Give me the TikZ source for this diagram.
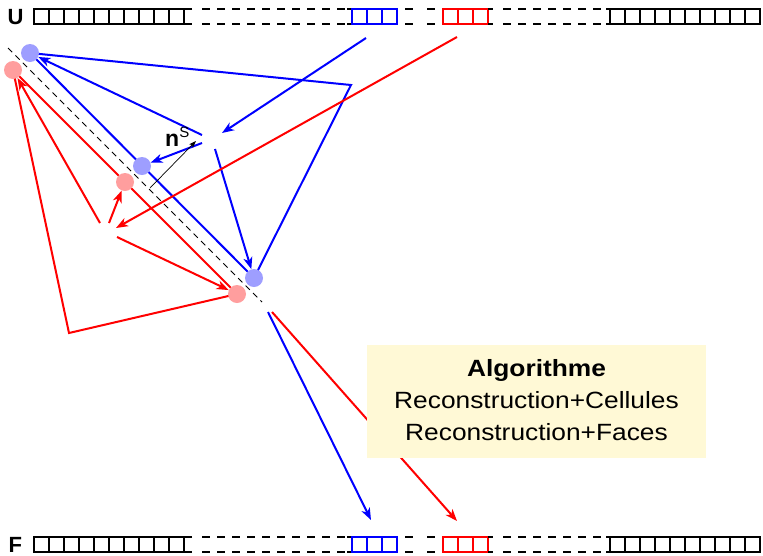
\documentclass[tikz,border=0pt]{standalone}
\usepackage{fontspec}
\usepackage{graphicx}
\setmainfont{Liberation Sans}
\usetikzlibrary{arrows.meta}
\pgfdeclarelayer{background}
\pgfsetlayers{background,main}
\definecolor{dotblue}{RGB}{158,158,255}
\definecolor{dotred}{RGB}{255,158,158}
\definecolor{notefill}{RGB}{255,249,214}
\newcommand\widetext[1]{\scalebox{1.12}[1]{#1}}

\begin{document}
\begin{tikzpicture}[x=1pt,y=-1pt,
  flow/.style={line width=2pt, -{Stealth[length=12pt,width=9pt,inset=3.5pt]}},
  link/.style={line width=2pt},
  normal/.style={line width=0.7pt, -{Stealth[length=7pt,width=5pt,inset=1.5pt]}},
  axis/.style={line width=0.9pt, dash pattern=on 6pt off 4.5pt},
  bdot/.style={circle, fill=dotblue, minimum size=18pt, inner sep=0pt},
  rdot/.style={circle, fill=dotred, minimum size=18pt, inner sep=0pt},
  cell/.style={line width=2pt},
  gapdash/.style={line width=2pt, dash pattern=on 8pt off 7pt},
  gapshort/.style={line width=2pt, dash pattern=on 8pt off 14pt},
  rowlabel/.style={font=\fontsize{22}{22}\selectfont\bfseries, inner sep=0pt, anchor=base west},
  notetext/.style={font=\fontsize{23.5}{28}\selectfont, inner sep=0pt, anchor=base},
  ]
\useasboundingbox (0,0) rectangle (763,555);

% the two cell arrays U (top) and F (bottom)
\foreach \yt/\yb in {8.5/23.5, 537/552} {
  % left block of black cells
  \draw[cell] (192,\yt) -- (34,\yt) -- (34,\yb) -- (192,\yb);
  \foreach \i in {1,...,10} \draw[cell] (34+15*\i,\yt) -- (34+15*\i,\yb);
  \draw[gapdash] (202,\yt) -- (345,\yt);
  \draw[gapdash] (202,\yb) -- (345,\yb);
  % blue cells
  \draw[cell] (347,\yt) -- (352,\yt) (347,\yb) -- (352,\yb);
  \draw[cell, blue] (352,\yt) rectangle (397,\yb);
  \draw[cell, blue] (367,\yt) -- (367,\yb) (382,\yt) -- (382,\yb);
  \draw[gapshort] (405,\yt) -- (435,\yt);
  \draw[gapshort] (405,\yb) -- (435,\yb);
  % red cells
  \draw[cell, red] (443,\yt) rectangle (488,\yb);
  \draw[cell, red] (458,\yt) -- (458,\yb) (473,\yt) -- (473,\yb);
  \draw[cell] (488,\yt) -- (493,\yt) (488,\yb) -- (493,\yb);
  \draw[gapdash] (503,\yt) -- (601,\yt);
  \draw[gapdash] (503,\yb) -- (601,\yb);
  % right block of black cells
  \draw[cell] (606,\yt) -- (760,\yt) -- (760,\yb) -- (606,\yb);
  \foreach \i in {0,...,9} \draw[cell] (610+15*\i,\yt) -- (610+15*\i,\yb);
}
\node[rowlabel] (U) at (7.5,24) {U};
\node[rowlabel] (F) at (8.5,552) {F};

% interface points
\node[bdot] (b1) at (30,53) {};
\node[bdot] (b2) at (142,166) {};
\node[bdot] (b3) at (254,278) {};
\node[rdot] (r1) at (13,70) {};
\node[rdot] (r2) at (125,182) {};
\node[rdot] (r3) at (237,294) {};

% free ends of the connectors
\coordinate (ax1) at (8,48);
\coordinate (ax2) at (262,302);
\coordinate (bu) at (366,38);
\coordinate (bm) at (222,133);
\coordinate (bk) at (351,85);
\coordinate (bs1) at (202,135);
\coordinate (bs2) at (202,143);
\coordinate (bs3) at (215,149);
\coordinate (bf0) at (268,312);
\coordinate (bf) at (371,520);
\coordinate (ru) at (457,37);
\coordinate (rm) at (116,228);
\coordinate (rs1) at (100,223);
\coordinate (rs2) at (109,223);
\coordinate (rs3) at (117,237);
\coordinate (rk) at (69,333);
\coordinate (rf0) at (272,312);
\coordinate (rf) at (457,521);
\coordinate (n0) at (150,188);
\coordinate (n1) at (196,141);

\begin{pgfonlayer}{background}
  \draw[axis] (ax1) -- (ax2);
  \draw[link, blue] (b1.center) -- (b3.center);
  \draw[link, red] (r1.center) -- (r3.center);
  % blue fluxes
  \draw[flow, blue] (bu) -- (bm);
  \draw[link, blue] (b3.center) -- (bk) -- (b1.center);
  \draw[flow, blue] (bs1) -- (b1);
  \draw[flow, blue] (bs2) -- (b2);
  \draw[flow, blue] (bs3) -- (b3);
  \draw[flow, blue] (bf0) -- (bf);
  % red fluxes
  \draw[flow, red] (ru) -- (rm);
  \draw[flow, red] (rs1) -- (r1);
  \draw[flow, red] (rs2) -- (r2);
  \draw[flow, red] (rs3) -- (r3);
  \draw[link, red] (r3.center) -- (rk) -- (r1.center);
  \draw[flow, red] (rf0) -- (rf);
\end{pgfonlayer}

% normal vector
\draw[normal] (n0) -- (n1);
\node[inner sep=0pt, anchor=base west] (nS) at (165,146)
  {\fontsize{23}{23}\selectfont\textbf{n}\raisebox{8.5pt}{\fontsize{15}{15}\selectfont S}};

% algorithm note
\fill[notefill] (367,345) rectangle (706,458);
\node[notetext] (algo1) at (536.5,376) {\widetext{\textbf{Algorithme}}};
\node[notetext] (algo2) at (536.5,408) {\widetext{Reconstruction+Cellules}};
\node[notetext] (algo3) at (536.5,440) {\widetext{Reconstruction+Faces}};
\end{tikzpicture}
\end{document}
